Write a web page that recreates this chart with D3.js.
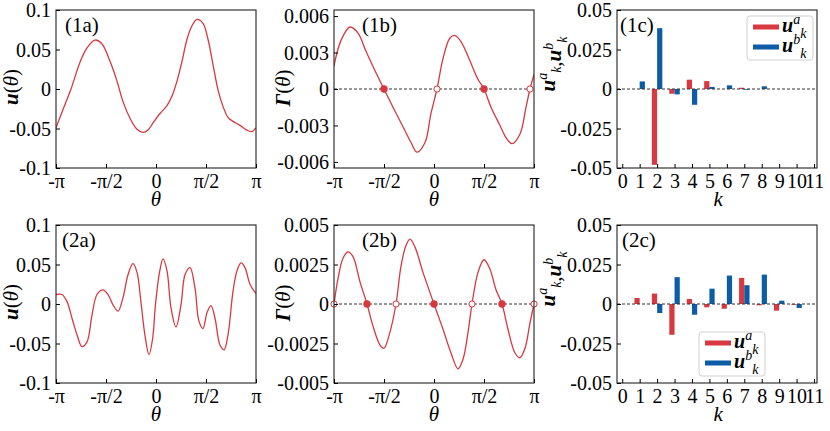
<!DOCTYPE html>
<html><head><meta charset="utf-8">
<script src="https://cdn.jsdelivr.net/npm/d3@7"></script>
<style>
body{margin:0;background:#fff}
svg{display:block}
text{font-family:"Liberation Serif","Times New Roman",serif;fill:#000}
</style>
</head><body>
<svg id="c" width="830" height="431"></svg>
<script>
// ---------- data ----------
// theta in units of pi
const thetaTicks = [-1, -0.5, 0, 0.5, 1];
const thetaTickLabels = ["-π", "-π/2", "0", "π/2", "π"];

const theta1a = [-1.00,-0.93,-0.85,-0.76,-0.69,-0.61,-0.54,-0.46,-0.39,-0.33,-0.26,-0.19,-0.13,-0.08,-0.03,0.04,0.11,0.16,0.21,0.26,0.31,0.36,0.41,0.47,0.52,0.57,0.62,0.67,0.72,0.77,0.84,0.91,0.96,1.00];
const u1a = [-0.049,-0.026,0.000,0.034,0.052,0.062,0.057,0.035,0.010,-0.016,-0.037,-0.051,-0.055,-0.052,-0.043,-0.031,-0.021,-0.009,0.010,0.035,0.063,0.080,0.088,0.083,0.063,0.031,-0.001,-0.022,-0.036,-0.041,-0.046,-0.052,-0.054,-0.049];

const theta1b = [-1.00,-0.93,-0.84,-0.76,-0.68,-0.59,-0.50,-0.41,-0.31,-0.23,-0.17,-0.09,-0.03,0.03,0.09,0.16,0.21,0.27,0.36,0.44,0.50,0.57,0.66,0.72,0.78,0.86,0.92,0.96,1.00];
const gamma1b = [0.0019,0.0040,0.0051,0.0046,0.0031,0.0015,0,-0.0015,-0.0031,-0.0044,-0.0052,-0.0044,-0.0020,0,0.0025,0.0042,0.0044,0.0039,0.0023,0.0008,0,-0.0015,-0.0030,-0.0040,-0.0045,-0.0037,-0.0015,0,0.0012];
const stable1b = [-0.5, 0.5];
const unstable1b = [0.03, 0.96];

const theta2a = [-1.00,-0.94,-0.89,-0.84,-0.79,-0.74,-0.69,-0.64,-0.59,-0.53,-0.48,-0.43,-0.38,-0.33,-0.28,-0.23,-0.19,-0.15,-0.11,-0.07,-0.035,-0.005,0.035,0.07,0.11,0.15,0.20,0.25,0.29,0.34,0.39,0.43,0.47,0.51,0.55,0.59,0.64,0.68,0.72,0.77,0.81,0.85,0.89,0.94,1.00];
const u2a = [0.012,0.012,0.003,-0.018,-0.039,-0.054,-0.048,-0.014,0.012,0.018,0.012,-0.001,-0.009,0.008,0.037,0.051,0.040,0.002,-0.040,-0.064,-0.045,0.000,0.040,0.057,0.042,-0.005,-0.029,-0.001,0.037,0.046,0.020,-0.022,-0.031,-0.011,-0.002,-0.018,-0.052,-0.058,-0.039,0.016,0.042,0.052,0.046,0.025,0.013];

const theta2b = [-1.00,-0.96,-0.91,-0.86,-0.81,-0.74,-0.67,-0.61,-0.54,-0.50,-0.45,-0.38,-0.33,-0.28,-0.24,-0.19,-0.11,0.00,0.09,0.17,0.24,0.29,0.34,0.38,0.44,0.50,0.56,0.62,0.68,0.74,0.81,0.86,0.91,0.96,1.00];
const gamma2b = [0,0.0016,0.0029,0.0033,0.0030,0.0014,0,-0.0014,-0.0026,-0.0028,-0.0020,0,0.0024,0.0037,0.0041,0.0036,0.0020,0,-0.0016,-0.0031,-0.0041,-0.0035,-0.0018,0,0.0020,0.0028,0.0022,0.0009,0,-0.0016,-0.0031,-0.0034,-0.0028,-0.0012,0];
const stable2b = [-0.67, 0, 0.68];
const unstable2b = [-1, -0.38, 0.38, 1];

const kValues = [1,2,3,4,5,6,7,8,9,10];
const kTicks = [0,1,2,3,4,5,6,7,8,9,10,11];
const ua1c = [0,-0.048,-0.003,0.0059,0.005,0,0.0008,0,0,0];
const ub1c = [0.0048,0.0385,-0.0034,-0.010,0.0013,0.0023,-0.0005,0.0017,0,0];
const ua2c = [0.0038,0.0066,-0.0195,0.0032,-0.0021,-0.003,0.0165,-0.0008,-0.0042,-0.0005];
const ub2c = [0,-0.0057,0.017,-0.0068,0.0097,0.018,0.0119,0.0186,0.0021,-0.0025];

const yTicksU = [-0.1,-0.05,0,0.05,0.1];
const yLabelsU = ["-0.1","-0.05","0","0.05","0.1"];
const yTicks1b = [-0.006,-0.003,0,0.003,0.006];
const yLabels1b = ["-0.006","-0.003","0","0.003","0.006"];
const yTicks2b = [-0.005,-0.0025,0,0.0025,0.005];
const yLabels2b = ["-0.005","-0.0025","0","0.0025","0.005"];
const yTicksC = [-0.05,-0.025,0,0.025,0.05];
const yLabelsC = ["-0.05","-0.025","0","0.025","0.05"];

// ---------- drawing ----------
const RED = "#d8383f", BLUE = "#0C5DA5";
const FS = 20;
const svg = d3.select("#c");
const W = 200, H = 158;

function axes(g, x, y, xt, xl, yt, yl) {
  const ax = g.append("g").attr("transform", `translate(0,${H})`)
    .call(d3.axisBottom(x).tickValues(xt).tickFormat((d,i)=>xl[i]).tickSize(-4).tickPadding(6));
  const ay = g.append("g")
    .call(d3.axisLeft(y).tickValues(yt).tickFormat((d,i)=>yl[i]).tickSize(-4).tickPadding(5));
  [ax, ay].forEach(a => {
    a.select(".domain").remove();
    a.selectAll(".tick line").attr("stroke", "#000").attr("stroke-width", 1);
    a.selectAll(".tick text").style("font-size", FS + "px").attr("fill", "#000");
  });
  ax.selectAll(".tick text").attr("dy", "0.71em");
  ay.selectAll(".tick text").attr("dy", "0.34em");
}

function border(g) {
  g.append("rect").attr("x", 0).attr("y", 0).attr("width", W).attr("height", H)
    .attr("fill", "none").attr("stroke", "#222").attr("stroke-width", 1.1);
}

function panelLabel(g, txt, x, y) {
  g.append("text").attr("x", x).attr("y", y).style("font-size", "21px").text(txt);
}

function xLabel(g, txt, x) {
  g.append("text").attr("x", x).attr("y", H + 38).attr("text-anchor", "middle")
    .style("font-size", "21px").style("font-style", "italic").text(txt);
}

function funcYLabel(g, sym, x, y) {
  const t = g.append("text").attr("transform", `translate(${x},${y}) rotate(-90)`)
    .attr("text-anchor", "middle").style("font-size", "21px");
  t.append("tspan").style("font-weight", "bold").style("font-style", "italic").text(sym);
  t.append("tspan").text("(");
  t.append("tspan").style("font-style", "italic").text("θ");
  t.append("tspan").text(")");
}

function ukParts(t, sup) {
  t.append("tspan").style("font-weight", "bold").style("font-style", "italic").text("u");
  t.append("tspan").style("font-size", "14px").style("font-style", "italic").attr("dy", -8).text(sup);
  t.append("tspan").style("font-size", "14px").style("font-style", "italic").attr("dy", 14).text("k");
  t.append("tspan").attr("dy", -6).text("");
}

function curvePanel(left, top, th, vals, yDom, yt, yl, id, stable, unstable) {
  const g = svg.append("g").attr("transform", `translate(${left},${top})`);
  const x = d3.scaleLinear().domain([-1, 1]).range([0, W]);
  const y = d3.scaleLinear().domain(yDom).range([H, 0]);
  g.append("clipPath").attr("id", "cp" + id).append("rect").attr("width", W).attr("height", H);
  const pts = th.map((t, i) => [t, vals[i]]);
  if (stable) {
    g.append("line").attr("x1", 0).attr("x2", W).attr("y1", y(0)).attr("y2", y(0))
      .attr("stroke", "#333").attr("stroke-width", 1).attr("stroke-dasharray", "3,2");
  }
  g.append("path").datum(pts)
    .attr("clip-path", `url(#cp${id})`)
    .attr("d", d3.line().x(d => x(d[0])).y(d => y(d[1])).curve(d3.curveCatmullRom.alpha(0.5)))
    .attr("fill", "none").attr("stroke", RED).attr("stroke-width", 1.3);
  if (stable) {
    g.selectAll(".st").data(stable).enter().append("circle")
      .attr("cx", d => x(d)).attr("cy", y(0)).attr("r", 3.4).attr("fill", RED).attr("stroke", RED).attr("stroke-width", 0.8);
    g.selectAll(".un").data(unstable).enter().append("circle")
      .attr("cx", d => x(d)).attr("cy", y(0)).attr("r", 3.1).attr("fill", "#fff").attr("stroke", RED).attr("stroke-width", 1);
  }
  border(g);
  axes(g, x, y, thetaTicks, thetaTickLabels, yt, yl);
  xLabel(g, "θ", W / 2);
  return g;
}

function barPanel(left, top, ua, ub, legendPos, labelY) {
  const g = svg.append("g").attr("transform", `translate(${left},${top})`);
  const x = d3.scaleLinear().domain([-0.3, 11.17]).range([0, W]);
  const y = d3.scaleLinear().domain([-0.05, 0.05]).range([H, 0]);
  const bw = x(0.3) - x(0);
  g.selectAll(".ba").data(kValues).enter().append("rect")
    .attr("x", d => x(d) - bw).attr("width", bw)
    .attr("y", (d, i) => y(Math.max(0, ua[i]))).attr("height", (d, i) => Math.abs(y(ua[i]) - y(0)))
    .attr("fill", RED);
  g.selectAll(".bb").data(kValues).enter().append("rect")
    .attr("x", d => x(d)).attr("width", bw)
    .attr("y", (d, i) => y(Math.max(0, ub[i]))).attr("height", (d, i) => Math.abs(y(ub[i]) - y(0)))
    .attr("fill", BLUE);
  g.append("line").attr("x1", 0).attr("x2", W).attr("y1", y(0)).attr("y2", y(0))
    .attr("stroke", "#333").attr("stroke-width", 1).attr("stroke-dasharray", "3,2");
  border(g);
  axes(g, x, y, kTicks, kTicks.map(String), yTicksC, yLabelsC);
  xLabel(g, "k", x(5.5));
  // legend
  const lg = g.append("g").attr("transform", `translate(${legendPos[0]},${legendPos[1]})`);
  lg.append("rect").attr("width", 66).attr("height", 44).attr("rx", 3)
    .attr("fill", "#fff").attr("stroke", "#d0d0d0").attr("stroke-width", 1);
  [["a", RED, 11], ["b", BLUE, 31]].forEach(([s, c, yy]) => {
    lg.append("line").attr("x1", 6).attr("x2", 32).attr("y1", yy).attr("y2", yy)
      .attr("stroke", c).attr("stroke-width", 5);
    const t = lg.append("text").attr("x", 35).attr("y", yy + 5).style("font-size", "20px");
    ukParts(t, s);
  });
  // y label
  const t = g.append("text").attr("transform", `translate(-62,${labelY}) rotate(-90)`)
    .attr("text-anchor", "middle").style("font-size", "21px");
  ukParts(t, "a");
  t.append("tspan").text(",");
  ukParts(t, "b");
  return g;
}

// Row 1
const g1a = curvePanel(56, 10, theta1a, u1a, [-0.1, 0.1], yTicksU, yLabelsU, "1a");
panelLabel(g1a, "(1a)", 9, 22);
funcYLabel(g1a, "u", -38, 77);

const g1b = curvePanel(334, 10, theta1b, gamma1b, [-0.0065, 0.0065], yTicks1b, yLabels1b, "1b", stable1b, unstable1b);
panelLabel(g1b, "(1b)", 28, 22);
funcYLabel(g1b, "Γ", -44, 78);

const g1c = barPanel(617, 10, ua1c, ub1c, [130, 6], 54);
panelLabel(g1c, "(1c)", 3, 22);

// Row 2
const g2a = curvePanel(56, 225, theta2a, u2a, [-0.1, 0.1], yTicksU, yLabelsU, "2a");
panelLabel(g2a, "(2a)", 6, 22);
funcYLabel(g2a, "u", -38, 77);

const g2b = curvePanel(334, 225, theta2b, gamma2b, [-0.005, 0.005], yTicks2b, yLabels2b, "2b", stable2b, unstable2b);
panelLabel(g2b, "(2b)", 28, 22);
funcYLabel(g2b, "Γ", -44, 78);

const g2c = barPanel(617, 225, ua2c, ub2c, [82, 107], 54);
panelLabel(g2c, "(2c)", 5, 22);
</script>
</body></html>
